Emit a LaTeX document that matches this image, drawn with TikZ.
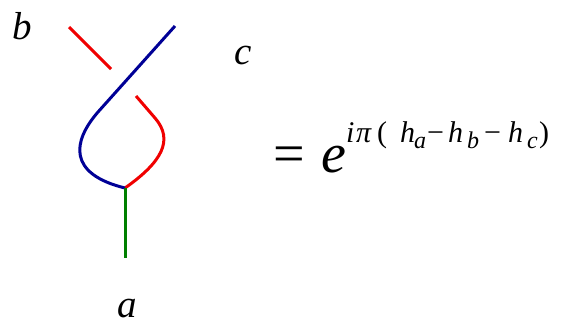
\documentclass[tikz,border=0pt]{standalone}
\usepackage{fontspec}
\setmainfont{Liberation Serif}
\newcommand{\gp}[2]{\rlap{\hspace*{#1pt}#2}}
\newcommand{\sbs}[1]{\raisebox{-6pt}{\fontsize{24}{24}\selectfont\itshape #1}}
\begin{document}
\begin{tikzpicture}[x=1pt,y=-1pt,
  strand/.style={line width=3pt},
  lbl/.style={inner sep=0pt,anchor=base west,font=\fontsize{39}{39}\selectfont\itshape}]
\definecolor{kred}{RGB}{240,0,0}
\definecolor{kblue}{RGB}{0,0,150}
\definecolor{kgreen}{RGB}{0,128,0}
\useasboundingbox (0,0) rectangle (562,324);
% coordinates
\coordinate (btop) at (69,27);
\coordinate (bgap) at (111,69);
\coordinate (ctop) at (175,26);
\coordinate (cbend) at (98,112);
\coordinate (bres) at (136,96);
\coordinate (bmid) at (155,118);
\coordinate (junc) at (125,188);
\coordinate (abot) at (125,258);
% strands
\draw[strand,kred] (btop) -- (bgap);
\draw[strand,kred] (bres) -- (bmid) .. controls (174,140) and (162,162) .. (junc);
\draw[strand,kblue] (ctop) -- (cbend) .. controls (72,142) and (68,174) .. (junc);
\draw[strand,kgreen] (junc) -- (abot);
% labels
\node[lbl] (lb) at (12,39) {b};
\node[lbl] (lc) at (234,64) {c};
\node[lbl] (la) at (117,317) {a};
% equation
\node[inner sep=0pt,anchor=base west,font=\fontsize{56}{56}\selectfont] (eq) at (273,172) {=};
\node[inner sep=0pt,anchor=base west,font=\fontsize{56}{56}\selectfont\itshape] (ee) at (321,172) {e};
\node[inner sep=0pt,anchor=base west,font=\fontsize{30}{30}\selectfont] (sup) at (346,142)
 {\gp{0}{\itshape i}\gp{10}{\itshape π}\gp{31}{(}\gp{54}{\itshape h}\gp{68}{\sbs{a}}\gp{81}{−}\gp{102}{\itshape h}\gp{121}{\sbs{b}}\gp{138}{−}\gp{162}{\itshape h}\gp{181}{\sbs{c}}\gp{193}{)}\hspace*{205pt}};
\end{tikzpicture}
\end{document}
